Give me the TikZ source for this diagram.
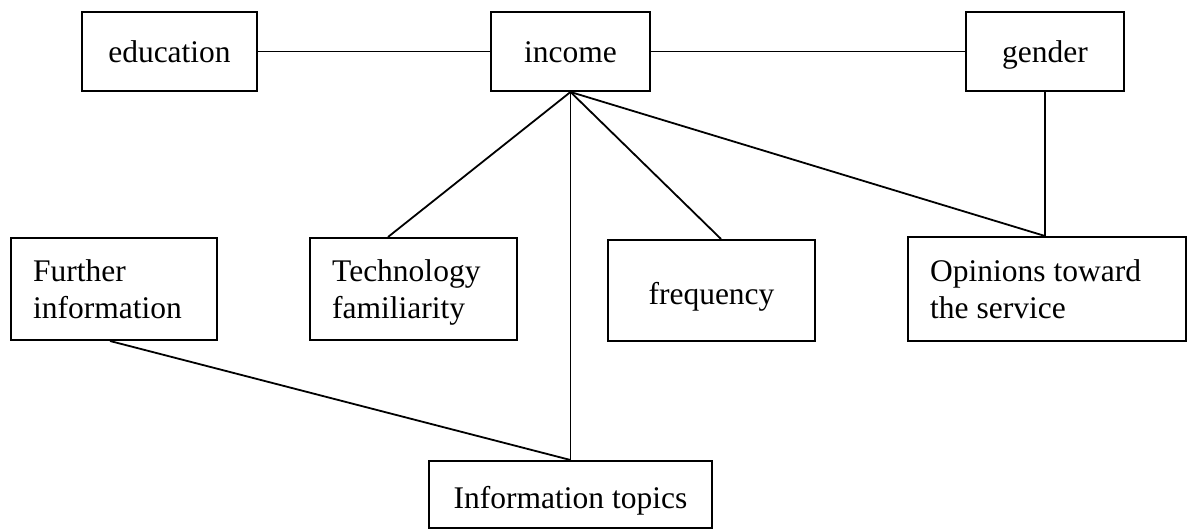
\documentclass[tikz,border=0pt]{standalone}
\usepackage{fontspec}
\setmainfont{Liberation Serif}
\begin{document}
\begin{tikzpicture}[x=1pt,y=-1pt,
  box/.style={draw, line width=2pt, rectangle, inner sep=0pt},
  lbl/.style={inner sep=0pt, font=\fontsize{31.5}{36}\selectfont},
  link/.style={line width=1.8pt}]
\useasboundingbox (0,0) rectangle (1188,529);

% boxes
\node[box, minimum width=175pt, minimum height=79pt]  (edu)  at (169.5,51.5) {};
\node[box, minimum width=159pt, minimum height=79pt]  (inc)  at (570.5,51.5) {};
\node[box, minimum width=158pt, minimum height=79pt]  (gen)  at (1045,51.5) {};
\node[box, minimum width=206pt, minimum height=102pt] (fur)  at (114,289) {};
\node[box, minimum width=207pt, minimum height=102pt] (tech) at (413.5,289) {};
\node[box, minimum width=207pt, minimum height=101pt] (freq) at (711.5,290.5) {};
\node[box, minimum width=278pt, minimum height=104pt] (op)   at (1047,289) {};
\node[box, minimum width=283pt, minimum height=67pt]  (info) at (570.5,494.5) {};

% labels
\node[lbl, anchor=base] (tedu)  at (169.5,63) {education};
\node[lbl, anchor=base] (tinc)  at (570.5,63) {income};
\node[lbl, anchor=base] (tgen)  at (1045,63) {gender};
\node[lbl, anchor=base] (tfreq) at (711.5,304) {frequency};
\node[lbl, anchor=base] (tinfo) at (570.5,508) {Information topics};
\node[lbl, anchor=base west] (tfur1)  at (33,282)  {Further};
\node[lbl, anchor=base west] (tfur2)  at (33,318)  {information};
\node[lbl, anchor=base west] (ttech1) at (332,282) {Technology};
\node[lbl, anchor=base west] (ttech2) at (332,318) {familiarity};
\node[lbl, anchor=base west] (top1)   at (930,282) {Opinions toward};
\node[lbl, anchor=base west] (top2)   at (930,318) {the service};

% connectors
\draw[link] (edu.east) -- (inc.west);
\draw[link] (inc.east) -- (gen.west);
\draw[link] (inc.south) -- ([xshift=79pt]tech.north west);
\draw[link] (inc.south) -- ([xshift=114pt]freq.north west);
\draw[link] (inc.south) -- (inc.south |- info.north);
\draw[link] (inc.south) -- ([xshift=138pt]op.north west);
\draw[link] (gen.south) -- (gen.south |- op.north);
\draw[link] ([xshift=100pt]fur.south west) -- (inc.south |- info.north);
\end{tikzpicture}
\end{document}
